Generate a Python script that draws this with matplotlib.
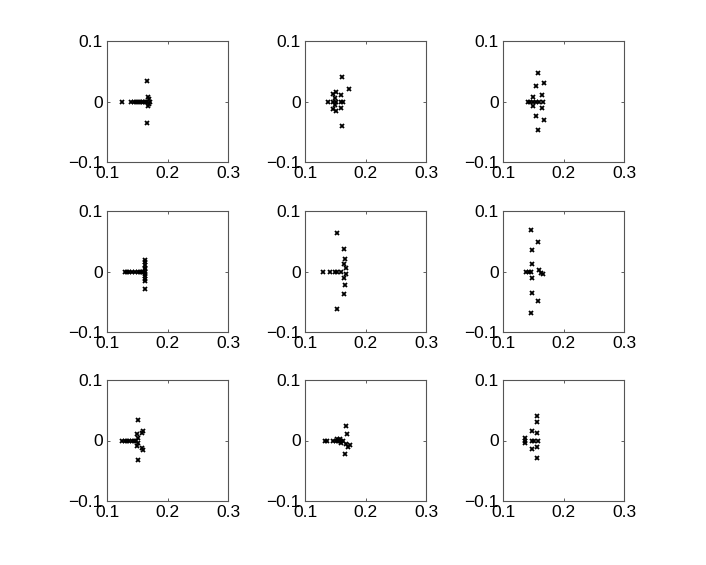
import numpy as np
import matplotlib
matplotlib.use('Agg')
import matplotlib.pyplot as plt

plt.rcParams['font.family'] = ['Liberation Sans', 'DejaVu Sans']

#### Data: one pair of x / y lists per panel (row by row) ####

x1 = [0.125, 0.139, 0.144, 0.148, 0.152, 0.155, 0.158, 0.160, 0.163, 0.166,
      0.166, 0.166, 0.168, 0.168, 0.169, 0.169, 0.171]
y1 = [0.0, 0.0, 0.0, 0.0, 0.0, 0.0, 0.0, 0.0, 0.0, 0.034,
      -0.036, 0.0, 0.008, -0.008, 0.004, -0.004, 0.0]

x2 = [0.1615, 0.1725, 0.1615, 0.138, 0.147, 0.152, 0.149, 0.147, 0.152,
      0.160, 0.160, 0.163, 0.149, 0.147, 0.152, 0.160]
y2 = [0.040, 0.021, -0.040, 0.0, 0.013, 0.015, 0.006, 0.0, 0.0,
      0.010, 0.0, 0.0, -0.005, -0.012, -0.016, -0.010]

x3 = [0.158, 0.167, 0.155, 0.165, 0.149, 0.141, 0.145, 0.149, 0.155, 0.160,
      0.166, 0.149, 0.165, 0.155, 0.167, 0.158]
y3 = [0.047, 0.031, 0.025, 0.011, 0.007, 0.0, 0.0, 0.0, 0.0, 0.0,
      0.0, -0.007, -0.010, -0.024, -0.031, -0.047]

x4 = [0.129, 0.133, 0.137, 0.142, 0.146, 0.151, 0.155, 0.158, 0.160, 0.162,
      0.163, 0.163, 0.163, 0.163, 0.162, 0.163, 0.163, 0.163, 0.163, 0.163]
y4 = [0.0, 0.0, 0.0, 0.0, 0.0, 0.0, 0.0, 0.0, 0.0, 0.0,
      0.019, 0.015, 0.011, 0.0066, 0.004, -0.004, -0.008, -0.0126, -0.0165, -0.029]

x5 = [0.1533, 0.164, 0.1665, 0.164, 0.1676, 0.129, 0.141, 0.149, 0.153,
      0.159, 0.1676, 0.164, 0.1665, 0.164, 0.1533]
y5 = [0.063, 0.038, 0.021, 0.012, 0.005, 0.0, 0.0, 0.0, 0.0,
      0.0, -0.004, -0.0115, -0.022, -0.038, -0.062]

x6 = [0.1467, 0.158, 0.148, 0.148, 0.1385, 0.143, 0.147, 0.159, 0.163,
      0.166, 0.148, 0.148, 0.158, 0.1467]
y6 = [0.069, 0.049, 0.036, 0.012, 0.0, 0.0, 0.0, 0.003, -0.002,
      -0.004, -0.0115, -0.036, -0.048, -0.068]

x7 = [0.152, 0.159, 0.158, 0.1495, 0.125, 0.129, 0.133, 0.137, 0.141, 0.144,
      0.148, 0.1516, 0.1516, 0.1495, 0.158, 0.159, 0.152]
y7 = [0.034, 0.015, 0.012, 0.010, 0.0, 0.0, 0.0, 0.0, 0.0, 0.0,
      0.0, 0.004, -0.004, -0.009, -0.012, -0.015, -0.033]

x8 = [0.1676, 0.1687, 0.133, 0.137, 0.1467, 0.151, 0.155, 0.1577, 0.160,
      0.163, 0.153, 0.158, 0.1676, 0.1714, 0.175, 0.166, 0.160]
y8 = [0.0236, 0.0115, 0.0, 0.0, 0.0, 0.0, 0.0, 0.0, 0.0,
      0.0, 0.003, 0.003, -0.0055, -0.011, -0.0077, -0.023, -0.004]

x9 = [0.156, 0.156, 0.1484, 0.156, 0.137, 0.137, 0.137, 0.1484, 0.152,
      0.158, 0.1484, 0.156, 0.156]
y9 = [0.040, 0.030, 0.0165, 0.0126, 0.0044, 0.0, -0.004, 0.0, 0.0,
      0.0, -0.0148, -0.011, -0.0286]

xs = [x1, x2, x3, x4, x5, x6, x7, x8, x9]
ys = [y1, y2, y3, y4, y5, y6, y7, y8, y9]

xticks = [0.1, 0.2, 0.3]
yticks = [-0.1, 0, 0.1]
xticklabels = ['0.1', '0.2', '0.3']
yticklabels = ['\u22120.1', '0', '0.1']

#### Layout ####

W, H = 706, 565
lefts = [107, 305, 503]
tops = [41, 211, 380]
size = 121

fig = plt.figure(figsize=(W / 100, H / 100), dpi=100)

for i in range(9):
    r, c = divmod(i, 3)
    ax = fig.add_axes([lefts[c] / W, 1 - (tops[r] + size) / H, size / W, size / H])
    ax.plot(xs[i], ys[i], 'kx', markersize=3.5, markeredgewidth=1.3)
    ax.set_xlim(0.1, 0.3)
    ax.set_ylim(-0.1, 0.1)
    ax.set_xticks(xticks)
    ax.set_xticklabels(xticklabels)
    ax.set_yticks(yticks)
    ax.set_yticklabels(yticklabels)
    ax.tick_params(direction='in', length=2.5, width=0.6, labelsize=12.5,
                   top=True, right=True, pad=3, colors='#444444', labelcolor='black')
    for s in ax.spines.values():
        s.set_color('#555555')
        s.set_linewidth(0.8)

fig.savefig('out.png', dpi=100)
